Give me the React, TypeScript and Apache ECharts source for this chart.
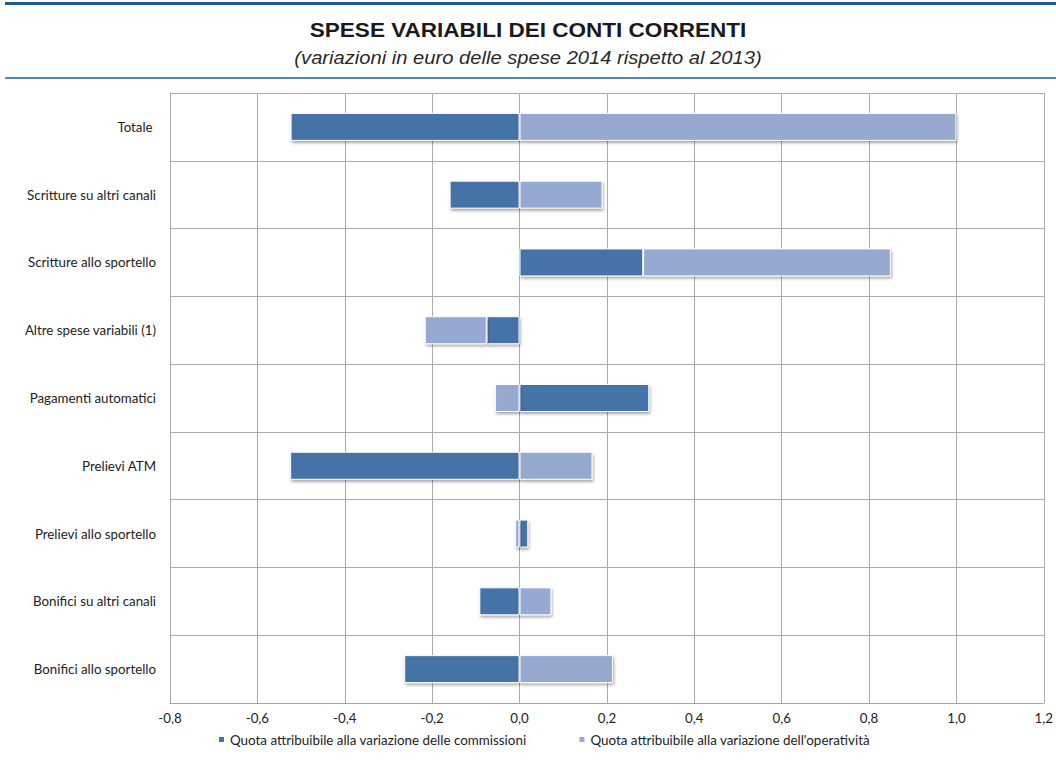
import React, { useEffect, useRef } from "react";
import * as echarts from "echarts";

const categories = [
  "Totale ",
  "Scritture su altri canali",
  "Scritture allo sportello",
  "Altre spese variabili (1)",
  "Pagamenti automatici",
  "Prelievi ATM",
  "Prelievi allo sportello",
  "Bonifici su altri canali",
  "Bonifici allo sportello",
];

const commissioni = [-0.524, -0.16, 0.283, -0.075, 0.297, -0.525, 0.02, -0.092, -0.264];
const operativita = [1.0, 0.19, 0.567, -0.142, -0.056, 0.167, -0.01, 0.073, 0.214];

const seriesNames = [
  "Quota attribuibile alla variazione delle commissioni",
  "Quota attribuibile alla variazione dell'operatività",
];

const titleText = "SPESE VARIABILI DEI CONTI CORRENTI";
const subtitleText = "(variazioni in euro delle spese 2014 rispetto al 2013)";

export default function App() {
  const ref = useRef<HTMLDivElement>(null);
  useEffect(() => {
    if (!ref.current) return;
    const chart = echarts.init(ref.current, undefined, { renderer: "svg" });
    const barStyle = (color: string) => ({
      color,
      borderColor: "#ffffff",
      borderWidth: 1,
      shadowColor: "rgba(0,0,0,0.35)",
      shadowBlur: 3,
      shadowOffsetX: 1,
      shadowOffsetY: 2,
    });
    chart.setOption({
      animation: false,
      backgroundColor: "#ffffff",
      graphic: [
        { type: "rect", shape: { x: 5, y: 2, width: 1051, height: 3 }, style: { fill: "#1d5f8c" } },
        { type: "rect", shape: { x: 5, y: 77, width: 1051, height: 2 }, style: { fill: "#4f89ae" } },
        {
          type: "text",
          x: 528,
          y: 30,
          scaleX: 1.1,
          style: {
            text: titleText,
            fontFamily: "'Liberation Sans', Arial, sans-serif",
            fontWeight: "bold",
            fontSize: 20.5,
            fill: "#1a1a1a",
            align: "center",
            verticalAlign: "middle",
          },
        },
        {
          type: "text",
          x: 528,
          y: 57.5,
          scaleX: 1.12,
          style: {
            text: subtitleText,
            fontFamily: "'Liberation Sans', Arial, sans-serif",
            fontStyle: "italic",
            fontSize: 18,
            fill: "#2a2a2a",
            align: "center",
            verticalAlign: "middle",
          },
        },
      ],
      grid: { left: 170, right: 8, top: 93, height: 610, containLabel: false },
      legend: {
        bottom: 14,
        left: 212,
        itemWidth: 7,
        itemHeight: 7,
        itemGap: 51,
        icon: "rect",
        textStyle: { fontFamily: "Lato", fontSize: 13.4, color: "#222" },
        data: seriesNames,
      },
      xAxis: {
        type: "value",
        min: -0.8,
        max: 1.2,
        interval: 0.2,
        axisLine: { show: true, lineStyle: { color: "#a6a6a6" } },
        axisTick: { show: false },
        axisLabel: {
          margin: 8,
          fontFamily: "Lato",
          fontSize: 13.3,
          color: "#222",
          formatter: (v: number) => v.toFixed(1).replace(".", ","),
        },
        splitLine: { show: true, lineStyle: { color: "#ababab", width: 1 } },
      },
      yAxis: {
        type: "category",
        inverse: true,
        data: categories,
        axisLine: { show: true, onZero: false, lineStyle: { color: "#a6a6a6" } },
        axisTick: { show: false },
        axisLabel: { margin: 14, fontFamily: "Lato", fontSize: 13.3, color: "#222" },
        splitLine: { show: true, lineStyle: { color: "#ababab", width: 1 } },
      },
      series: [
        {
          name: seriesNames[0],
          type: "bar",
          stack: "tot",
          barWidth: 28,
          data: commissioni,
          itemStyle: barStyle("#4573a7"),
        },
        {
          name: seriesNames[1],
          type: "bar",
          stack: "tot",
          barWidth: 28,
          data: operativita,
          itemStyle: barStyle("#95a9d1"),
        },
      ],
    });
    return () => chart.dispose();
  }, []);
  return (
    <div
      ref={ref}
      style={{ position: "fixed", left: 0, top: 0, width: 1056, height: 765, background: "#fff" }}
    />
  );
}
